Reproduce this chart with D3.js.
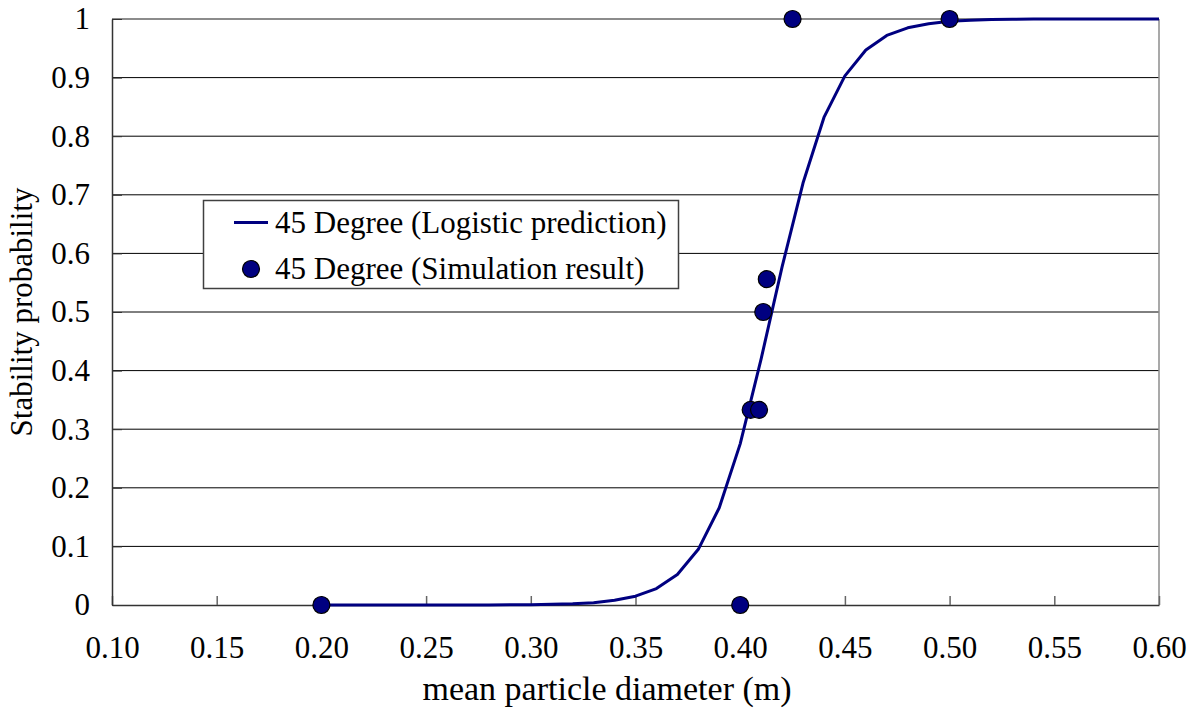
<!DOCTYPE html>
<html>
<head>
<meta charset="utf-8">
<script src="https://cdn.jsdelivr.net/npm/d3@7/dist/d3.min.js"></script>
<style>
  html, body { margin: 0; padding: 0; background: #fff; }
  svg { display: block; }
  svg text { font-family: "Liberation Serif", "Times New Roman", serif; fill: #000; }
</style>
</head>
<body>
<svg id="chart" width="1195" height="709"></svg>
<script>
// Logistic prediction curve (45 degree slope)
const curveDiameter = [0.20, 0.21, 0.22, 0.23, 0.24, 0.25, 0.26, 0.27, 0.28, 0.29,
                       0.30, 0.31, 0.32, 0.33, 0.34, 0.35, 0.36, 0.37, 0.38, 0.39,
                       0.40, 0.41, 0.42, 0.43, 0.44, 0.45, 0.46, 0.47, 0.48, 0.49,
                       0.50, 0.51, 0.52, 0.53, 0.54, 0.55, 0.56, 0.57, 0.58, 0.59, 0.60];
const curveProb = [0, 0, 0, 0, 0, 0, 0, 0, 0.0002, 0.0003,
                   0.0006, 0.0012, 0.002, 0.004, 0.008, 0.015, 0.028, 0.052, 0.095, 0.166,
                   0.275, 0.42, 0.577, 0.72, 0.832, 0.903, 0.947, 0.972, 0.985, 0.992,
                   0.996, 0.998, 0.999, 0.9995, 1, 1, 1, 1, 1, 1, 1];

// Simulation results (45 degree slope)
const simDiameter = [0.20, 0.40, 0.405, 0.409, 0.411, 0.4127, 0.425, 0.50];
const simProb     = [0,    0,    0.333, 0.333, 0.5,   0.556,  1,     1];

const xTickValues = [0.10, 0.15, 0.20, 0.25, 0.30, 0.35, 0.40, 0.45, 0.50, 0.55, 0.60];
const yTickValues = [0, 0.1, 0.2, 0.3, 0.4, 0.5, 0.6, 0.7, 0.8, 0.9, 1];

const seriesNames = ["45 Degree (Logistic prediction)", "45 Degree (Simulation result)"];
const xTitle = "mean particle diameter (m)";
const yTitle = "Stability probability";

const navy = "#000080";

const svg = d3.select("#chart");
const plot = { left: 112, right: 1159, top: 19, bottom: 605 };

const x = d3.scaleLinear().domain([0.10, 0.60]).range([plot.left, plot.right]);
const y = d3.scaleLinear().domain([0, 1]).range([plot.bottom, plot.top]);

// Horizontal gridlines
svg.append("g")
  .selectAll("line")
  .data(yTickValues.filter(v => v > 0))
  .join("line")
  .attr("x1", plot.left).attr("x2", plot.right)
  .attr("y1", d => y(d)).attr("y2", d => y(d))
  .attr("stroke", d => d === 1 ? "#8c8c8c" : "#000")
  .attr("stroke-width", d => d === 1 ? 2 : 1);

// Right plot border
svg.append("line")
  .attr("x1", plot.right).attr("x2", plot.right)
  .attr("y1", plot.top).attr("y2", plot.bottom)
  .attr("stroke", "#8c8c8c").attr("stroke-width", 1.5);

// X axis with inward ticks
const xAxis = d3.axisBottom(x)
  .tickValues(xTickValues)
  .tickSizeInner(-9)
  .tickSizeOuter(0)
  .tickPadding(31)
  .tickFormat(d3.format(".2f"));
const gx = svg.append("g").attr("transform", `translate(0,${plot.bottom})`).call(xAxis)
  .attr("font-family", null).attr("font-size", null);
gx.select(".domain").attr("stroke", "#333").attr("stroke-width", 1.5);
gx.selectAll(".tick line").attr("stroke", "#666").attr("stroke-width", 1.5);
gx.selectAll(".tick text").style("font-size", "31px");

// Y axis with inward ticks
const yAxis = d3.axisLeft(y)
  .tickValues(yTickValues)
  .tickSizeInner(-10)
  .tickSizeOuter(0)
  .tickPadding(22)
  .tickFormat(d3.format("~g"));
const gy = svg.append("g").attr("transform", `translate(${plot.left},0)`).call(yAxis)
  .attr("font-family", null).attr("font-size", null);
gy.select(".domain").attr("stroke", "#333").attr("stroke-width", 1.5);
gy.selectAll(".tick line").attr("stroke", "#333").attr("stroke-width", 1);
gy.selectAll(".tick text").style("font-size", "31px");

// Axis titles
svg.append("text")
  .attr("x", 607).attr("y", 700)
  .attr("text-anchor", "middle")
  .style("font-size", "34px")
  .text(xTitle);

svg.append("text")
  .attr("transform", `translate(32,${(plot.top + plot.bottom) / 2}) rotate(-90)`)
  .attr("text-anchor", "middle")
  .style("font-size", "31px")
  .text(yTitle);

// Prediction curve
const curveData = curveDiameter.map((d, i) => [d, curveProb[i]]);
svg.append("path")
  .datum(curveData)
  .attr("fill", "none")
  .attr("stroke", navy)
  .attr("stroke-width", 3)
  .attr("stroke-linejoin", "round")
  .attr("d", d3.line().x(d => x(d[0])).y(d => y(d[1])));

// Simulation markers
svg.append("g")
  .selectAll("circle")
  .data(simDiameter.map((d, i) => [d, simProb[i]]))
  .join("circle")
  .attr("cx", d => x(d[0]))
  .attr("cy", d => y(d[1]))
  .attr("r", 8.5)
  .attr("fill", navy)
  .attr("stroke", "#000")
  .attr("stroke-width", 1.2);

// Legend
const legend = svg.append("g");
legend.append("rect")
  .attr("x", 203.5).attr("y", 200.5)
  .attr("width", 475).attr("height", 88)
  .attr("fill", "#fff")
  .attr("stroke", "#404040").attr("stroke-width", 1.5);
legend.append("line")
  .attr("x1", 234).attr("x2", 268)
  .attr("y1", 222.5).attr("y2", 222.5)
  .attr("stroke", navy).attr("stroke-width", 3);
legend.append("circle")
  .attr("cx", 251).attr("cy", 269).attr("r", 8.5)
  .attr("fill", navy).attr("stroke", "#000").attr("stroke-width", 1.2);
legend.append("text")
  .attr("x", 275).attr("y", 233)
  .style("font-size", "31px")
  .text(seriesNames[0]);
legend.append("text")
  .attr("x", 275).attr("y", 279)
  .style("font-size", "31px")
  .text(seriesNames[1]);
</script>
</body>
</html>
